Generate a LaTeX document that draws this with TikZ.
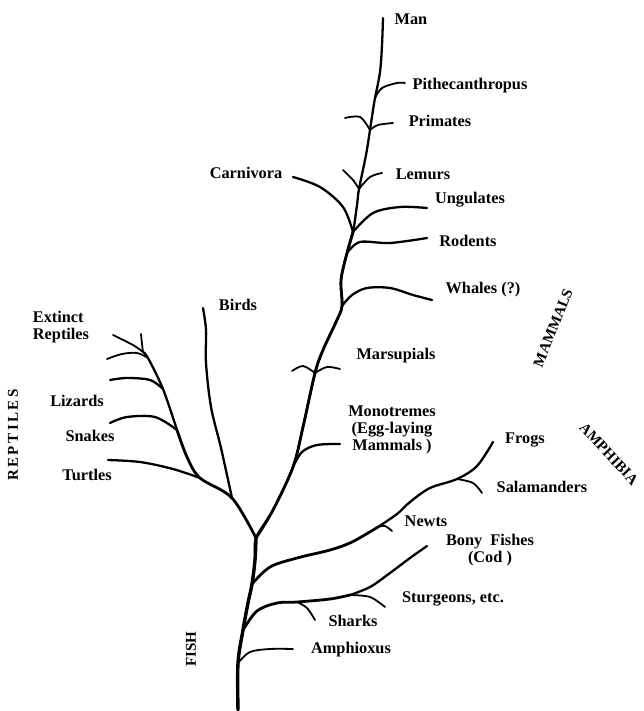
\documentclass[tikz,border=0pt]{standalone}
\usepackage{fontspec}
\setmainfont{Liberation Serif}
\begin{document}
\begin{tikzpicture}[x=1pt,y=-1pt,
  lbl/.style={font=\fontsize{16.3}{17}\selectfont\bfseries, inner sep=0pt, align=center},
  grp/.style={font=\fontsize{15}{16}\selectfont\bfseries, inner sep=0pt},
  stem/.style={line width=3.4pt, line cap=round, line join=round},
  mid/.style={line width=2.8pt, line cap=round, line join=round},
  br/.style={line width=2.3pt, line cap=round, line join=round},
  twig/.style={line width=1.8pt, line cap=round, line join=round},
  sm/.style={smooth, tension=0.55}]
\useasboundingbox (0,0) rectangle (643,711);

% junctions
\coordinate (root) at (238,710);
\coordinate (jAmph) at (238,663);
\coordinate (jFish) at (243,630);
\coordinate (jAmphib) at (252,584);
\coordinate (jSplit) at (256,538);
\coordinate (jRept) at (232,498);
\coordinate (jMono) at (293,467);
\coordinate (jMars) at (315,373);
\coordinate (jWhale) at (342,306);
\coordinate (jRod) at (347,253);
\coordinate (jUng) at (353,232);
\coordinate (jLem) at (359,189);
\coordinate (jPrim) at (370,130);
\coordinate (jPith) at (375,98);
\coordinate (top) at (383,18);
\coordinate (jShark) at (297,602);
\coordinate (jStur) at (350,595);
\coordinate (jNewt) at (378,527);
\coordinate (jSal) at (457,479);
\coordinate (jTurt) at (200,478);
\coordinate (jSnake) at (177,430);
\coordinate (jLiz) at (163,389);
\coordinate (jB2) at (148,358);
\coordinate (jTop) at (143,352);

% main trunk (full, thin) and thicker lower part
\draw[br] plot[sm] coordinates {(root) (jAmph) (jFish) (248,603) (jAmphib) (255,560) (jSplit) (273,510) (jMono) (303,427) (jMars) (323,350) (336,322) (jWhale) (341,280) (jRod) (jUng) (357,205) (jLem) (366,155) (jPrim) (373,110) (jPith) (380,72) (382,45) (top)};
\draw[mid] plot[sm] coordinates {(jSplit) (273,510) (jMono) (303,427) (jMars) (323,350) (336,322) (jWhale) (341,280) (jRod) (jUng)};
\draw[stem] plot[sm] coordinates {(root) (jAmph) (jFish) (248,603) (jAmphib) (255,560) (jSplit)};

% fish
\draw[twig] plot[sm] coordinates {(jAmph) (250,652) (270,649) (293,649)};
\draw[mid] plot[sm] coordinates {(jFish) (257,611) (277,603) (jShark) (330,599) (jStur)};
\draw[br] plot[sm] coordinates {(jStur) (370,587) (390,573) (410,558) (427,546)};
\draw[twig] plot[sm] coordinates {(jShark) (307,608) (315,620)};
\draw[twig] plot[sm] coordinates {(jStur) (370,597) (385,607)};

% amphibia
\draw[mid] plot[sm] coordinates {(jAmphib) (270,567) (297,558) (330,550) (352,542) (jNewt)};
\draw[br] plot[sm] coordinates {(jNewt) (397,514) (410,502) (430,488) (jSal) (477,466) (493,442)};
\draw[twig] plot[sm] coordinates {(jNewt) (385,526) (392,531)};
\draw[twig] plot[sm] coordinates {(jSal) (473,483) (482,493)};

% reptiles and birds
\draw[mid] plot[sm] coordinates {(jSplit) (jRept) (jTurt) (187,457) (jSnake)};
\draw[br] plot[sm] coordinates {(jSnake) (jLiz) (jB2) (jTop)};
\draw[twig] plot[sm] coordinates {(jTop) (142,344) (141,334)};
\draw[br] plot[sm] coordinates {(jRept) (221,448) (211,407) (206,363) (206,330) (203,308)};
\draw[br] plot[sm] coordinates {(jTurt) (173,469) (140,462) (108,460)};
\draw[br] plot[sm] coordinates {(jSnake) (155,417) (127,417) (110,423)};
\draw[br] plot[sm] coordinates {(jLiz) (150,380) (127,378) (110,380)};
\draw[twig] plot[sm] coordinates {(jB2) (137,353) (122,354) (107,359)};
\draw[twig] plot[sm] coordinates {(jTop) (133,345) (113,335)};

% mammals
\draw[br] plot[sm] coordinates {(jMono) (302,452) (317,445) (340,444)};
\draw[twig] plot[sm] coordinates {(jMars) (303,366) (292,371)};
\draw[twig] plot[sm] coordinates {(jMars) (327,367) (340,369)};
\draw[br] plot[sm] coordinates {(jWhale) (352,295) (367,288) (390,288) (413,295) (432,300)};
\draw[br] plot[sm] coordinates {(jRod) (360,242) (390,243) (427,238)};
\draw[br] plot[sm] coordinates {(jUng) (373,213) (400,207) (427,208)};
\draw[br] plot[sm] coordinates {(jUng) (343,207) (320,187) (293,177)};
\draw[twig] plot[sm] coordinates {(jLem) (370,177) (382,173)};
\draw[twig] plot[sm] coordinates {(jLem) (353,180) (343,170)};
\draw[twig] plot[sm] coordinates {(jPrim) (378,125) (393,123)};
\draw[twig] plot[sm] coordinates {(jPrim) (360,117) (345,118)};
\draw[twig] plot[sm] coordinates {(jPith) (382,88) (397,83) (405,83)};

% labels
\node[lbl] (man) at (411,19) {Man};
\node[lbl] (pith) at (470,86) {Pithecanthropus};
\node[lbl] (prim) at (440,121) {Primates};
\node[lbl] (carn) at (246,173) {Carnivora};
\node[lbl] (lem) at (423,174) {Lemurs};
\node[lbl] (ung) at (470,200) {Ungulates};
\node[lbl] (rod) at (468,241) {Rodents};
\node[lbl] (wha) at (483,290) {Whales (?)};
\node[lbl] (mars) at (396,356) {Marsupials};
\node[lbl] (mono) at (392,430) {Monotremes\\(Egg-laying\\Mammals )};
\node[lbl] (birds) at (238,305) {Birds};
\node[lbl, align=left] (ext) at (61,327) {Extinct\\Reptiles};
\node[lbl] (liz) at (77,401) {Lizards};
\node[lbl] (snk) at (90,436) {Snakes};
\node[lbl] (tur) at (87,475) {Turtles};
\node[lbl] (frog) at (525,440) {Frogs};
\node[lbl] (sal) at (542,487) {Salamanders};
\node[lbl] (newt) at (426,521) {Newts};
\node[lbl] (bony) at (490,550) {Bony\ \ Fishes\\(Cod )};
\node[lbl] (stur) at (453,599) {Sturgeons, etc.};
\node[lbl] (shark) at (353,621) {Sharks};
\node[lbl] (amx) at (351,650) {Amphioxus};

% group labels
\node[grp, rotate=68] (gmam) at (553,328) {MAMMALS};
\node[grp, rotate=-47] (gamp) at (609,454) {AMPHIBIA};
\node[grp, rotate=90] (grep) at (13,435) {R\,E\,P\,T\,I\,L\,E\,S};
\node[grp, rotate=90] (gfish) at (191,649) {FISH};
\end{tikzpicture}
\end{document}
